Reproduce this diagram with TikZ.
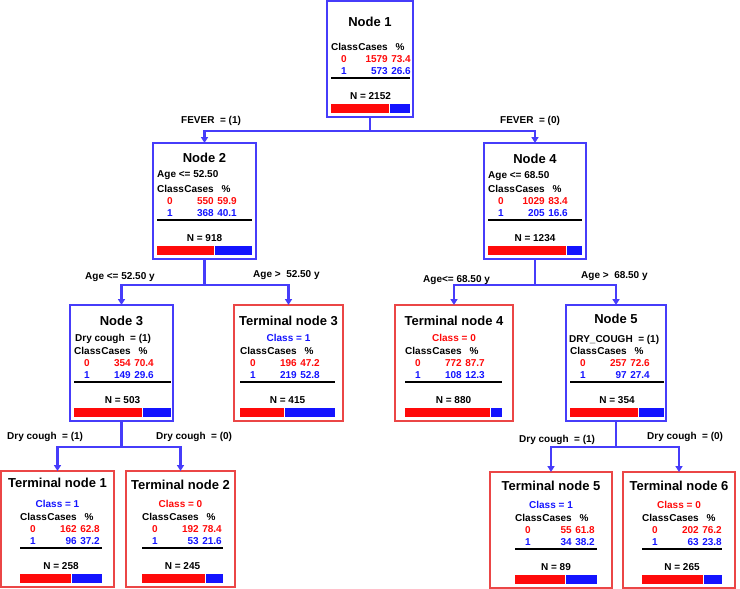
\documentclass[tikz,border=0pt]{standalone}
\usepackage{fontspec}
\setmainfont{Liberation Sans}
\usetikzlibrary{arrows.meta, calc}
\definecolor{nodeblue}{RGB}{70,60,250}
\definecolor{termred}{RGB}{235,70,70}
\definecolor{tred}{RGB}{255,10,10}
\definecolor{tblue}{RGB}{20,20,255}

% class table under a box: #1 box, #2 inset, #3 rule width, #4-#7 cases and %, #8 N
\newcommand{\stats}[8]{%
  \begin{scope}[shift={(#1.north west)}, xshift=#2pt]
    \node[cell, anchor=west] (#1-hc) at (0,46) {Class};
    \node[cell, anchor=east] (#1-hn) at (57,46) {Cases};
    \node[cell] (#1-hp) at (69,46) {\%};
    \node[cell, text=tred] (#1-k0) at (13,58) {0};
    \node[cell, text=tred, anchor=east] (#1-c0) at (57,58) {#4};
    \node[cell, text=tred, anchor=east] (#1-p0) at (80,58) {#5};
    \node[cell, text=tblue] (#1-k1) at (13,70) {1};
    \node[cell, text=tblue, anchor=east] (#1-c1) at (57,70) {#6};
    \node[cell, text=tblue, anchor=east] (#1-p1) at (80,70) {#7};
    \draw[line width=1.1pt] (0,77) -- (#3,77);
    \node[cell] (#1-n) at (#3/2,95) {N = #8};
    \fill[tred] (0,103) rectangle (#3*#5/100,112);
    \fill[tblue] (#3*#5/100,103) rectangle (#3,112);
    \draw[white, line width=0.8pt] (#3*#5/100,103) -- (#3*#5/100,112);
  \end{scope}}

\begin{document}
\begin{tikzpicture}[
  x=1pt, y=-1pt,
  split/.style={rectangle, draw=nodeblue, line width=2pt, minimum height=116pt,
                inner sep=0pt, outer sep=0pt},
  leaf/.style={rectangle, draw=termred, line width=1.4pt, minimum height=116pt,
               inner sep=0pt, outer sep=0pt},
  cell/.style={font=\fontsize{10}{12}\selectfont\bfseries, inner sep=0pt,
               text height=7.2pt, text depth=0pt},
  ttl/.style={font=\fontsize{13}{15}\selectfont\bfseries, inner sep=0pt,
              text height=9.3pt, text depth=0pt},
  lbl/.style={cell, anchor=west},
  arr/.style={-{Triangle[length=6pt, width=7pt]}, line width=2.4pt, draw=#1}
]
\path[fill=white, use as bounding box] (0,0) rectangle (740,589);

%% Root
\node[split, minimum width=86pt] (n1) at (370,59) {};
\node[ttl] (n1-t) at ($(n1.north)+(0,21)$) {Node 1};
\stats{n1}{4}{79}{1579}{73.4}{573}{26.6}{2152}

%% Level 2
\node[split, minimum width=103pt] (n2) at (204.5,201) {};
\node[ttl] (n2-t) at ($(n2.north)+(0,15)$) {Node 2};
\node[lbl] (n2-c) at ($(n2.north west)+(4,31)$) {Age <= 52.50};
\stats{n2}{4}{95}{550}{59.9}{368}{40.1}{918}

\node[split, minimum width=102pt] (n4) at (535,201) {};
\node[ttl] (n4-t) at ($(n4.north)+(0,16)$) {Node 4};
\node[lbl] (n4-c) at ($(n4.north west)+(4,32)$) {Age <= 68.50};
\stats{n4}{4}{94}{1029}{83.4}{205}{16.6}{1234}

\coordinate (j1) at ($(n1.south)+(0,14)$);
\draw[arr=nodeblue] (n1.south) -- (j1) -| (n2.north);
\draw[arr=nodeblue] (j1) -| (n4.north);
\node[lbl] (e1) at (181,120) {FEVER~ = (1)};
\node[lbl] (e2) at (500,120) {FEVER~ = (0)};

%% Level 3
\node[split, minimum width=103pt] (n3) at (121.5,363) {};
\node[ttl] (n3-t) at ($(n3.north)+(0,16)$) {Node 3};
\node[lbl] (n3-c) at ($(n3.north west)+(5,33)$) {Dry cough~ = (1)};
\stats{n3}{4}{97}{354}{70.4}{149}{29.6}{503}

\node[leaf, minimum width=109pt] (t3) at (288.5,363) {};
\node[ttl] (t3-t) at ($(t3.north)+(0,16)$) {Terminal node 3};
\node[cell, text=tblue] (t3-c) at ($(t3.north)+(0,33)$) {Class = 1};
\stats{t3}{6}{95}{196}{47.2}{219}{52.8}{415}

\node[leaf, minimum width=118pt] (t4) at (454,363) {};
\node[ttl] (t4-t) at ($(t4.north)+(0,16)$) {Terminal node 4};
\node[cell, text=tred] (t4-c) at ($(t4.north)+(0,33)$) {Class = 0};
\stats{t4}{10}{97}{772}{87.7}{108}{12.3}{880}

\node[split, minimum width=100pt] (n5) at (616,363) {};
\node[ttl] (n5-t) at ($(n5.north)+(0,14)$) {Node 5};
\node[lbl] (n5-c) at ($(n5.north west)+(3,34)$) {DRY\_COUGH~ = (1)};
\stats{n5}{4}{94}{257}{72.6}{97}{27.4}{354}

\coordinate (j2) at ($(n2.south)+(0,26)$);
\draw[arr=nodeblue] (n2.south) -- (j2) -| (n3.north);
\draw[arr=nodeblue] (j2) -| (t3.north);
\node[lbl] (e3) at (85,276) {Age <= 52.50 y};
\node[lbl] (e4) at (253,274) {Age >~ 52.50 y};

\coordinate (j4) at ($(n4.south)+(0,26)$);
\draw[arr=nodeblue] (n4.south) -- (j4) -| (t4.north);
\draw[arr=nodeblue] (j4) -| (n5.north);
\node[lbl] (e5) at (423,279) {Age<= 68.50 y};
\node[lbl] (e6) at (581,275) {Age >~ 68.50 y};

%% Level 4
\node[leaf, minimum width=113pt] (t1) at (57.5,529) {};
\node[ttl] (t1-t) at ($(t1.north)+(0,12)$) {Terminal node 1};
\node[cell, text=tblue] (t1-c) at ($(t1.north)+(0,33)$) {Class = 1};
\stats{t1}{19}{82}{162}{62.8}{96}{37.2}{258}

\node[leaf, minimum width=109pt] (t2) at (180.5,529) {};
\node[ttl] (t2-t) at ($(t2.north)+(0,14)$) {Terminal node 2};
\node[cell, text=tred] (t2-c) at ($(t2.north)+(0,33)$) {Class = 0};
\stats{t2}{16}{81}{192}{78.4}{53}{21.6}{245}

\node[leaf, minimum width=122pt] (t5) at (551,530) {};
\node[ttl] (t5-t) at ($(t5.north)+(0,14)$) {Terminal node 5};
\node[cell, text=tblue] (t5-c) at ($(t5.north)+(0,33)$) {Class = 1};
\stats{t5}{25}{82}{55}{61.8}{34}{38.2}{89}

\node[leaf, minimum width=112pt] (t6) at (679,530) {};
\node[ttl] (t6-t) at ($(t6.north)+(0,14)$) {Terminal node 6};
\node[cell, text=tred] (t6-c) at ($(t6.north)+(0,33)$) {Class = 0};
\stats{t6}{19}{80}{202}{76.2}{63}{23.8}{265}

\coordinate (j3) at ($(n3.south)+(0,26)$);
\draw[arr=nodeblue] (n3.south) -- (j3) -| (t1.north);
\draw[arr=nodeblue] (j3) -| (t2.north);
\node[lbl] (e7) at (7,436) {Dry cough~ = (1)};
\node[lbl] (e8) at (156,436) {Dry cough~ = (0)};

\coordinate (j5) at ($(n5.south)+(0,26)$);
\draw[arr=nodeblue] (n5.south) -- (j5) -| (t5.north);
\draw[arr=nodeblue] (j5) -| (t6.north);
\node[lbl] (e9) at (519,439) {Dry cough~ = (1)};
\node[lbl] (e10) at (647,436) {Dry cough~ = (0)};
\end{tikzpicture}
\end{document}
